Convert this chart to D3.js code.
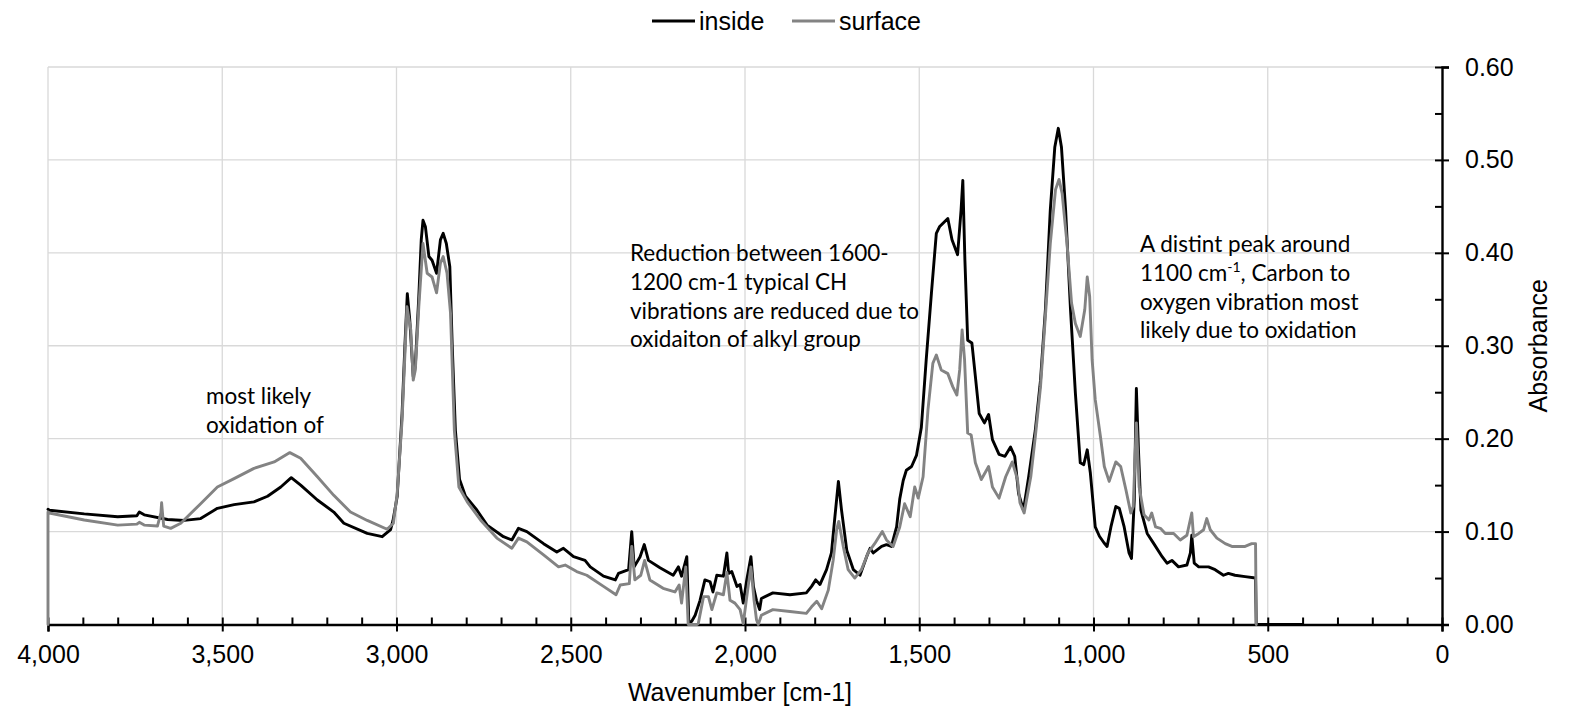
<!DOCTYPE html>
<html>
<head>
<meta charset="utf-8">
<script src="https://cdn.jsdelivr.net/npm/d3@7"></script>
<style>
  html, body { margin: 0; padding: 0; background: #fff; }
  svg { display: block; }
  .tick text { font-family: "Liberation Sans", Arial, sans-serif; font-size: 25px; fill: #000; }
</style>
</head>
<body>
<svg id="chart" width="1575" height="708"></svg>
<script>
// FTIR absorbance spectra, [wavenumber cm-1, absorbance]
const insideSpectrum = [
  [4000, 0.124], [3996, 0.123], [3896, 0.119], [3800, 0.116], [3745, 0.117], [3738, 0.121],
  [3724, 0.118], [3657, 0.113], [3609, 0.112], [3562, 0.114], [3514, 0.125], [3466, 0.129],
  [3409, 0.132], [3370, 0.138], [3332, 0.148], [3302, 0.158], [3275, 0.150], [3227, 0.134],
  [3180, 0.121], [3151, 0.109], [3084, 0.098], [3041, 0.0945], [3017, 0.102], [3010, 0.112],
  [3003, 0.127], [2998, 0.138], [2984, 0.227], [2976, 0.299], [2969, 0.356], [2962, 0.328],
  [2952, 0.267], [2946, 0.278], [2936, 0.353], [2929, 0.414], [2924, 0.435], [2917, 0.428],
  [2907, 0.396], [2898, 0.392], [2885, 0.378], [2874, 0.414], [2866, 0.421], [2857, 0.410],
  [2847, 0.385], [2840, 0.299], [2831, 0.209], [2819, 0.156], [2802, 0.138], [2769, 0.123],
  [2740, 0.107], [2693, 0.0945], [2669, 0.091], [2650, 0.1035], [2626, 0.100], [2578, 0.087],
  [2540, 0.078], [2521, 0.082], [2492, 0.073], [2459, 0.069], [2444, 0.062], [2406, 0.052],
  [2372, 0.048], [2363, 0.055], [2334, 0.059], [2325, 0.100], [2318, 0.062], [2301, 0.073],
  [2289, 0.086], [2277, 0.069], [2244, 0.061], [2206, 0.053], [2191, 0.062], [2182, 0.052],
  [2167, 0.073], [2161, 0.000], [2152, 0.004], [2143, 0.010], [2129, 0.026], [2115, 0.048],
  [2100, 0.046], [2092, 0.035], [2081, 0.053], [2062, 0.052], [2052, 0.077], [2047, 0.055],
  [2038, 0.057], [2023, 0.041], [2014, 0.043], [2005, 0.023], [1995, 0.048], [1983, 0.073],
  [1976, 0.041], [1967, 0.026], [1958, 0.016], [1953, 0.028], [1920, 0.034], [1871, 0.032],
  [1824, 0.034], [1809, 0.041], [1797, 0.048], [1785, 0.043], [1766, 0.059], [1752, 0.077],
  [1742, 0.116], [1732, 0.154], [1723, 0.123], [1708, 0.080], [1689, 0.059], [1670, 0.053],
  [1651, 0.073], [1641, 0.082], [1632, 0.077], [1608, 0.084], [1594, 0.086], [1580, 0.084],
  [1565, 0.105], [1556, 0.135], [1546, 0.155], [1537, 0.166], [1522, 0.170], [1508, 0.182],
  [1494, 0.212], [1480, 0.285], [1465, 0.357], [1451, 0.421], [1442, 0.428], [1418, 0.437],
  [1406, 0.414], [1390, 0.398], [1380, 0.446], [1375, 0.478], [1369, 0.392], [1361, 0.306],
  [1349, 0.303], [1339, 0.267], [1328, 0.227], [1313, 0.217], [1301, 0.226], [1290, 0.199],
  [1271, 0.183], [1254, 0.181], [1238, 0.191], [1226, 0.181], [1215, 0.141], [1201, 0.123],
  [1186, 0.159], [1167, 0.209], [1152, 0.263], [1138, 0.339], [1124, 0.446], [1111, 0.514],
  [1101, 0.534], [1092, 0.514], [1080, 0.446], [1066, 0.339], [1052, 0.249], [1038, 0.174],
  [1028, 0.172], [1018, 0.188], [1009, 0.163], [995, 0.105], [983, 0.095], [970, 0.088],
  [961, 0.084], [950, 0.105], [936, 0.127], [926, 0.125], [912, 0.105], [898, 0.077],
  [891, 0.071], [883, 0.134], [877, 0.254], [871, 0.188], [864, 0.123], [846, 0.098],
  [827, 0.087], [803, 0.073], [789, 0.066], [775, 0.069], [756, 0.062], [732, 0.064],
  [722, 0.077], [718, 0.096], [711, 0.066], [698, 0.062], [670, 0.062], [651, 0.059],
  [627, 0.053], [613, 0.055], [594, 0.053], [565, 0.0515], [535, 0.050], [533, 0.000],
  [400, 0.000]
];

const surfaceSpectrum = [
  [4000, 0.000], [4000, 0.121], [3996, 0.120], [3896, 0.1125], [3800, 0.107], [3745, 0.108],
  [3738, 0.110], [3724, 0.107], [3686, 0.106], [3676, 0.120], [3674, 0.131], [3671, 0.118],
  [3668, 0.106], [3648, 0.1035], [3619, 0.109], [3562, 0.130], [3514, 0.148], [3466, 0.157],
  [3409, 0.168], [3351, 0.175], [3306, 0.185], [3275, 0.179], [3227, 0.159], [3180, 0.139],
  [3132, 0.121], [3084, 0.112], [3027, 0.1025], [3009, 0.109], [2998, 0.141], [2984, 0.220],
  [2970, 0.342], [2959, 0.317], [2952, 0.263], [2946, 0.274], [2936, 0.342], [2924, 0.410],
  [2912, 0.378], [2898, 0.374], [2885, 0.357], [2874, 0.389], [2866, 0.396], [2855, 0.378],
  [2845, 0.335], [2834, 0.209], [2821, 0.148], [2797, 0.132], [2759, 0.1125], [2712, 0.093],
  [2669, 0.082], [2650, 0.093], [2626, 0.089], [2578, 0.075], [2535, 0.062], [2516, 0.064],
  [2483, 0.057], [2454, 0.053], [2406, 0.041], [2370, 0.032], [2358, 0.0425], [2332, 0.044],
  [2325, 0.084], [2316, 0.048], [2299, 0.053], [2288, 0.069], [2273, 0.048], [2235, 0.039],
  [2201, 0.035], [2189, 0.0425], [2182, 0.023], [2170, 0.062], [2163, 0.000], [2138, 0.000],
  [2134, 0.001], [2119, 0.030], [2105, 0.030], [2095, 0.016], [2081, 0.034], [2062, 0.032],
  [2052, 0.056], [2043, 0.026], [2029, 0.023], [2014, 0.016], [2005, 0.001], [1991, 0.041],
  [1983, 0.062], [1974, 0.026], [1967, 0.005], [1962, 0.000], [1953, 0.010], [1920, 0.016],
  [1871, 0.014], [1824, 0.012], [1809, 0.019], [1794, 0.025], [1780, 0.017], [1761, 0.037],
  [1747, 0.069], [1737, 0.102], [1731, 0.111], [1718, 0.084], [1704, 0.059], [1685, 0.050],
  [1666, 0.059], [1647, 0.077], [1628, 0.087], [1606, 0.100], [1594, 0.091], [1575, 0.084],
  [1556, 0.105], [1542, 0.130], [1526, 0.116], [1513, 0.148], [1503, 0.136], [1489, 0.159],
  [1475, 0.231], [1461, 0.281], [1451, 0.290], [1437, 0.274], [1418, 0.270], [1404, 0.256],
  [1392, 0.247], [1384, 0.274], [1377, 0.317], [1370, 0.285], [1361, 0.206], [1351, 0.204],
  [1339, 0.174], [1322, 0.156], [1301, 0.170], [1290, 0.148], [1271, 0.136], [1252, 0.159],
  [1233, 0.175], [1218, 0.156], [1211, 0.131], [1199, 0.120], [1180, 0.159], [1167, 0.202],
  [1152, 0.256], [1138, 0.332], [1124, 0.410], [1109, 0.468], [1099, 0.479], [1090, 0.464],
  [1076, 0.410], [1063, 0.346], [1052, 0.324], [1038, 0.310], [1025, 0.339], [1018, 0.374],
  [1011, 0.353], [1004, 0.285], [995, 0.242], [980, 0.202], [969, 0.170], [955, 0.154],
  [936, 0.175], [922, 0.170], [907, 0.145], [893, 0.120], [886, 0.127], [877, 0.217],
  [869, 0.148], [855, 0.118], [841, 0.1125], [833, 0.120], [822, 0.105], [808, 0.1035],
  [794, 0.098], [770, 0.098], [751, 0.091], [732, 0.096], [718, 0.120], [713, 0.0945],
  [698, 0.098], [684, 0.102], [675, 0.114], [665, 0.102], [646, 0.093], [622, 0.087],
  [603, 0.084], [584, 0.084], [565, 0.084], [546, 0.087], [535, 0.087], [533, 0.000]
];

const seriesNames = ["inside", "surface"];
const seriesColors = ["#000000", "#838383"];

const xMajorTicks = [4000, 3500, 3000, 2500, 2000, 1500, 1000, 500, 0];
const xMinorTicks = d3.range(3900, 0, -100).filter(v => v % 500 !== 0);
const yMajorTicks = [0, 0.1, 0.2, 0.3, 0.4, 0.5, 0.6];
const yMinorTicks = [0.05, 0.15, 0.25, 0.35, 0.45, 0.55];

const xTitle = "Wavenumber [cm-1]";
const yTitle = "Absorbance";

const notes = [
  { x: 206, y: 396, lines: ["most likely", "oxidation of"] },
  { x: 630, y: 253, lines: ["Reduction between 1600-", "1200 cm-1 typical CH",
                             "vibrations are reduced due to", "oxidaiton of alkyl group"] },
  { x: 1140, y: 244, lines: ["A distint peak around", ["1100 cm", "-1", ", Carbon to"],
                             "oxygen vibration most", "likely due to oxidation"] }
];

const svg = d3.select("#chart");
const plotLeft = 48, plotRight = 1442, plotTop = 67, plotBottom = 624.5;

const x = d3.scaleLinear().domain([4000, 0]).range([plotLeft, plotRight]);
const y = d3.scaleLinear().domain([0, 0.6]).range([plotBottom, plotTop]);

// gridlines
const grid = svg.append("g").attr("stroke", "#d9d9d9").attr("stroke-width", 1.3);
grid.selectAll("line.v").data(xMajorTicks.filter(v => v !== 0)).join("line")
  .attr("class", "v")
  .attr("x1", d => x(d)).attr("x2", d => x(d)).attr("y1", plotTop).attr("y2", plotBottom);
grid.selectAll("line.h").data(yMajorTicks.filter(v => v !== 0)).join("line")
  .attr("class", "h")
  .attr("x1", plotLeft).attr("x2", plotRight).attr("y1", d => y(d)).attr("y2", d => y(d));

// x axis: major ticks cross the line, minor ticks point up
const xAxisG = svg.append("g").attr("transform", `translate(0,${plotBottom})`);
xAxisG.call(d3.axisBottom(x).tickValues(xMajorTicks).tickFormat(d3.format(",")).tickSizeOuter(0).tickSize(7).tickPadding(14));
xAxisG.selectAll(".tick line").attr("y1", -7).attr("y2", 7).attr("stroke-width", 2);
xAxisG.select(".domain").attr("stroke-width", 2.4);
const xMinorG = svg.append("g").attr("transform", `translate(0,${plotBottom})`);
xMinorG.call(d3.axisBottom(x).tickValues(xMinorTicks).tickFormat("").tickSizeOuter(0));
xMinorG.select(".domain").remove();
xMinorG.selectAll(".tick line").attr("y1", 0).attr("y2", -7).attr("stroke-width", 2);

// y axis on the right
const yAxisG = svg.append("g").attr("transform", `translate(${plotRight},0)`);
yAxisG.call(d3.axisRight(y).tickValues(yMajorTicks).tickFormat(d3.format(".2f")).tickSizeOuter(0).tickSize(7).tickPadding(16));
yAxisG.selectAll(".tick line").attr("x1", -7).attr("x2", 7).attr("stroke-width", 2);
yAxisG.select(".domain").attr("stroke-width", 2.4);
const yMinorG = svg.append("g").attr("transform", `translate(${plotRight},0)`);
yMinorG.call(d3.axisRight(y).tickValues(yMinorTicks).tickFormat("").tickSizeOuter(0));
yMinorG.select(".domain").remove();
yMinorG.selectAll(".tick line").attr("x1", 0).attr("x2", -7).attr("stroke-width", 2);

// axis titles
svg.append("text").attr("x", 740).attr("y", 701).attr("text-anchor", "middle")
  .attr("font-family", "Liberation Sans, Arial, sans-serif").attr("font-size", 25).text(xTitle);
svg.append("text").attr("transform", `translate(1547,${(plotTop + plotBottom) / 2}) rotate(-90)`)
  .attr("text-anchor", "middle")
  .attr("font-family", "Liberation Sans, Arial, sans-serif").attr("font-size", 25).text(yTitle);

// spectra
const line = d3.line().x(d => x(d[0])).y(d => y(d[1]));
[insideSpectrum, surfaceSpectrum].forEach((data, i) => {
  svg.append("path").datum(data)
    .attr("fill", "none")
    .attr("stroke", seriesColors[i])
    .attr("stroke-width", 2.9)
    .attr("stroke-linejoin", "round")
    .attr("stroke-linecap", "round")
    .attr("d", line);
});

// legend
const legend = svg.append("g");
const legendX = [652, 792];
seriesNames.forEach((name, i) => {
  legend.append("line").attr("x1", legendX[i]).attr("x2", legendX[i] + 43)
    .attr("y1", 21).attr("y2", 21).attr("stroke", seriesColors[i]).attr("stroke-width", 2.9);
  legend.append("text").attr("x", legendX[i] + 47).attr("y", 30)
    .attr("font-family", "Liberation Sans, Arial, sans-serif").attr("font-size", 25).text(name);
});

// annotations
notes.forEach(n => {
  const t = svg.append("text").attr("font-family", "Lato, 'Open Sans', sans-serif")
    .attr("font-size", 22.5).attr("fill", "#000");
  n.lines.forEach((ln, j) => {
    const base = n.y + 8 + j * 28.8;
    if (Array.isArray(ln)) {
      t.append("tspan").attr("x", n.x).attr("y", base).text(ln[0]);
      t.append("tspan").attr("font-size", 14).attr("dy", -9).text(ln[1]);
      t.append("tspan").attr("dy", 9).text(ln[2]);
    } else {
      t.append("tspan").attr("x", n.x).attr("y", base).text(ln);
    }
  });
});
</script>
</body>
</html>
